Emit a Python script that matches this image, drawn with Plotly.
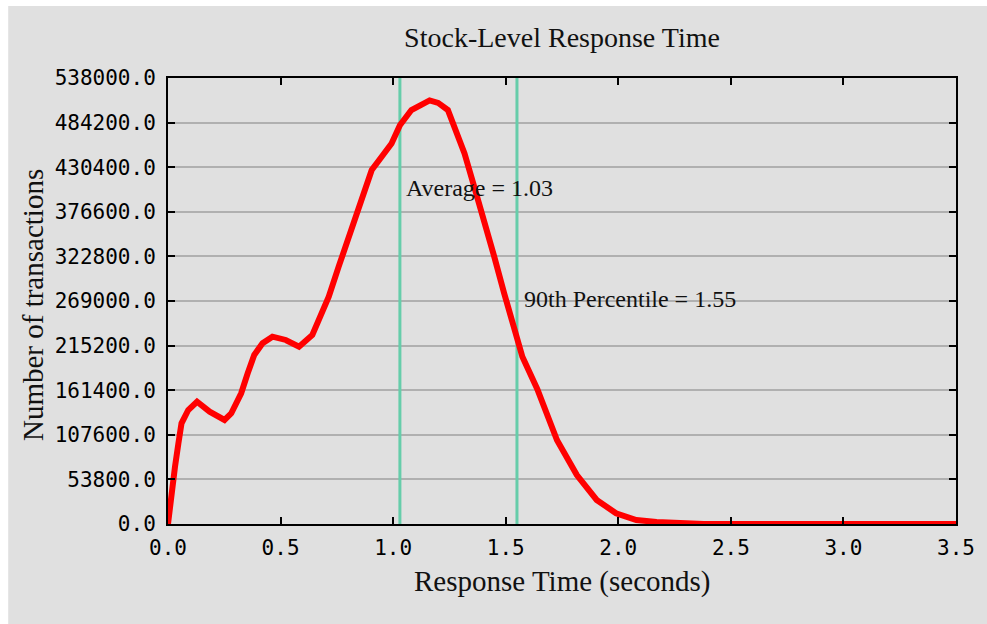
import plotly.graph_objects as go

# ---- data ----
resp_time = [0.000, 0.016, 0.031, 0.046, 0.060, 0.090, 0.129, 0.185, 0.251, 0.281,
             0.325, 0.354, 0.383, 0.420, 0.464, 0.523, 0.582, 0.641, 0.685, 0.714,
             0.758, 0.795, 0.832, 0.861, 0.905, 0.949, 0.993, 1.030, 1.081, 1.162,
             1.200, 1.243, 1.280, 1.317, 1.360, 1.405, 1.449, 1.493, 1.537, 1.574,
             1.640, 1.728, 1.816, 1.904, 1.990, 2.080, 2.170, 2.300, 2.380, 3.500]
transactions = [0, 41000, 69000, 97000, 121500, 137500, 147500, 135500, 125500, 133500,
                157700, 181800, 203900, 218000, 226000, 222000, 213900, 228000, 254000, 274200,
                310400, 338600, 366700, 390800, 427000, 443000, 459000, 481000, 499400, 511000,
                508000, 499400, 471000, 447000, 407000, 366700, 322500, 278300, 234000, 201800,
                163000, 101000, 59000, 29000, 13000, 4800, 2400, 1000, 0, 0]

average = 1.03
percentile90 = 1.55

y_ticks = [0.0, 53800.0, 107600.0, 161400.0, 215200.0, 269000.0, 322800.0,
           376600.0, 430400.0, 484200.0, 538000.0]
x_ticks = [0.0, 0.5, 1.0, 1.5, 2.0, 2.5, 3.0, 3.5]

title_text = "Stock-Level Response Time"
x_title = "Response Time (seconds)"
y_title = "Number of transactions"
avg_label = "Average = 1.03"
p90_label = "90th Percentile = 1.55"

# ---- figure ----
BG = "#e0e0e0"
GREEN = "#66cdaa"
serif = "Liberation Serif, Times New Roman, serif"
mono = "DejaVu Sans Mono, monospace"

fig = go.Figure()

for xv in (average, percentile90):
    fig.add_trace(go.Scatter(x=[xv, xv], y=[y_ticks[0], y_ticks[-1]], mode="lines",
                             line=dict(color=GREEN, width=3), showlegend=False,
                             hoverinfo="skip"))

fig.add_trace(go.Scatter(x=resp_time, y=transactions, mode="lines",
                         line=dict(color="#ff0000", width=6), cliponaxis=False,
                         showlegend=False))

fig.add_annotation(x=average + 0.02, y=405000, text=avg_label, showarrow=False,
                   xanchor="left", yanchor="middle",
                   font=dict(family=serif, size=24, color="#111"))
fig.add_annotation(x=percentile90 + 0.024, y=271000, text=p90_label, showarrow=False,
                   xanchor="left", yanchor="middle",
                   font=dict(family=serif, size=24, color="#111"))

fig.add_annotation(xref="paper", yref="paper", x=0.5, y=-0.130, text=x_title,
                   showarrow=False, xanchor="center", yanchor="middle",
                   font=dict(family=serif, size=29, color="#111"))
fig.add_annotation(xref="paper", yref="paper", x=-0.1713, y=0.491, text=y_title,
                   showarrow=False, xanchor="center", yanchor="middle", textangle=-90,
                   font=dict(family=serif, size=29, color="#111"))

# white frame strips (top and left)
fig.add_shape(type="rect", xref="paper", yref="paper", x0=-0.25, x1=1.1,
              y0=(524 - 6) / 446, y1=1.3, fillcolor="white", line_width=0, layer="above")
fig.add_shape(type="rect", xref="paper", yref="paper", x0=-0.25, x1=(7 - 168) / 794,
              y0=-0.3, y1=1.3, fillcolor="white", line_width=0, layer="above")

fig.update_layout(
    width=987, height=624,
    margin=dict(l=168, r=25, t=78, b=100),
    paper_bgcolor=BG, plot_bgcolor=BG,
    title=dict(text=title_text, x=0.5, xref="paper", y=1 - 37 / 624, yanchor="middle",
               font=dict(family=serif, size=28, color="#111")),
)
fig.update_xaxes(range=[0, 3.5], tickvals=x_ticks, tickformat=".1f",
                 showgrid=False, zeroline=False, showline=True, linecolor="black",
                 linewidth=2, mirror="ticks", ticks="inside", ticklen=7, tickwidth=2,
                 tickcolor="black", tickfont=dict(family=mono, size=21, color="black"),
                 ticklabelstandoff=4)
fig.update_yaxes(range=[0, 538000], tickvals=y_ticks, tickformat=".1f",
                 showgrid=True, gridcolor="#b0b0b0", gridwidth=2, zeroline=False,
                 showline=True, linecolor="black", linewidth=2, mirror="ticks",
                 ticks="inside", ticklen=7, tickwidth=2, tickcolor="black",
                 tickfont=dict(family=mono, size=21, color="black"),
                 ticklabelstandoff=6)

fig.write_html("out.html")
